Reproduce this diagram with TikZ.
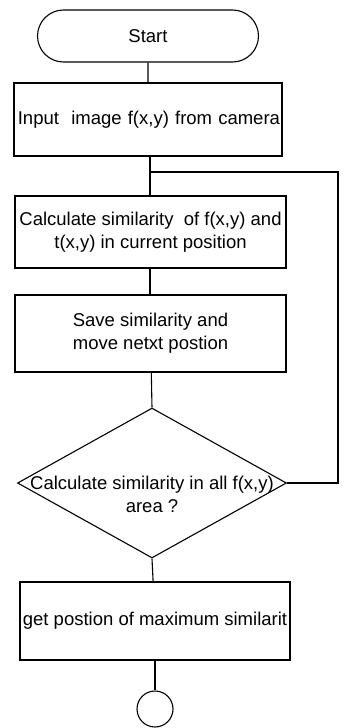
\documentclass[tikz,border=0pt]{standalone}
\usepackage{fontspec}
\setmainfont{Liberation Sans}
\usetikzlibrary{shapes.geometric,shapes.misc}

\begin{document}
\begin{tikzpicture}[
    x=1pt, y=-1pt,
    font=\fontsize{18.5}{23}\selectfont,
    line width=1.1pt,
    term/.style={draw, rounded rectangle, minimum width=221pt, minimum height=52pt, inner sep=0pt},
    proc/.style={draw, rectangle, align=center, inner sep=1pt},
    decide/.style={draw, diamond, minimum width=269pt, minimum height=150pt, inner sep=0pt},
    txt/.style={align=center, inner sep=0pt},
    stop/.style={draw, circle, minimum size=36pt, inner sep=0pt},
  ]
    \useasboundingbox (0,0) rectangle (345,728);

    \node[term] (start) at (148,36) {Start};
    \node[proc, minimum width=268pt, minimum height=73pt, text width=264pt, align=right] (in) at (148,119.5) {Input\ \ image f(x,y) from camera};
    \node[proc, minimum width=271pt, minimum height=72pt] (calc) at (150.5,232) {Calculate similarity\ \ of f(x,y) and\\t(x,y) in current position};
    \node[proc, minimum width=271pt, minimum height=77pt] (save) at (150.5,333.5) {Save similarity and\\move netxt postion};
    \node[decide] (test) at (152,483) {};
    \node[txt] (testtxt) at (152,494) {Calculate similarity in all f(x,y)\\area ?};
    \node[proc, minimum width=270pt, minimum height=78pt] (get) at (155,621) {get postion of maximum similarit};
    \node[stop] (end) at (155,709) {};

    \coordinate (join) at (150,172);
    \coordinate (back) at (338,172);

    \draw (start) -- (in);
    \draw (in.south -| join) -- (calc.north -| join);
    \draw (calc.south -| join) -- (save.north -| join);
    \draw (save) -- (test.north);
    \draw (test.south) -- (get);
    \draw (get) -- (end);
    \draw (test.east) -| (back) -- (join);
\end{tikzpicture}
\end{document}
